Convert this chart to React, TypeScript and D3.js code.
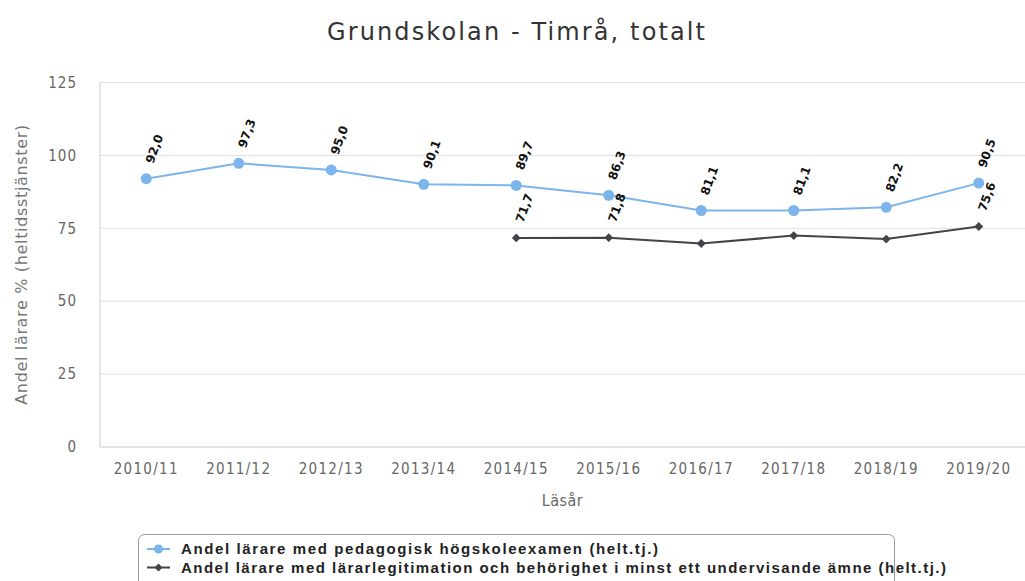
import React from "react";
import * as d3 from "d3";

const categories = ["2010/11", "2011/12", "2012/13", "2013/14", "2014/15", "2015/16", "2016/17", "2017/18", "2018/19", "2019/20"];
const pedagogiskValues: (number | null)[] = [92.0, 97.3, 95.0, 90.1, 89.7, 86.3, 81.1, 81.1, 82.2, 90.5];
const legitimationValues: (number | null)[] = [null, null, null, null, 71.7, 71.8, 69.8, 72.5, 71.3, 75.6];
const legitimationLabelShown = [false, false, false, false, true, true, false, false, false, true];
const yTicks = [0, 25, 50, 75, 100, 125];
const title = "Grundskolan - Timrå, totalt";
const yTitle = "Andel lärare % (heltidsstjänster)";
const xTitle = "Läsår";
const legendNames = [
  "Andel lärare med pedagogisk högskoleexamen (helt.tj.)",
  "Andel lärare med lärarlegitimation och behörighet i minst ett undervisande ämne (helt.tj.)",
];

const W = 1025, H = 581;
const left = 100, right = 1025, top = 82.5, bottom = 447;
const BLUE = "#7cb5ec", DARK = "#434348";

export default function App() {
  const x = d3.scaleBand<string>().domain(categories).range([left, right]);
  const y = d3.scaleLinear().domain([0, 125]).range([bottom, top]);
  const cx = (c: string) => (x(c) as number) + x.bandwidth() / 2;
  const fmt = (v: number) => v.toFixed(1).replace(".", ",");

  const line = d3.line<[string, number | null]>()
    .defined((d) => d[1] !== null)
    .x((d) => cx(d[0]))
    .y((d) => y(d[1] as number));

  const s1 = categories.map((c, i) => [c, pedagogiskValues[i]] as [string, number | null]);
  const s2 = categories.map((c, i) => [c, legitimationValues[i]] as [string, number | null]);
  const diamond = d3.symbol().type(d3.symbolDiamond2).size(50)();

  const label = (c: string, v: number, key: string) => (
    <text key={key} transform={`translate(${cx(c) + 3},${y(v) - 16}) rotate(-70)`}
      fontFamily="DejaVu Sans" fontSize={12} fontWeight="bold" fill="#111" dy="0.35em">{fmt(v)}</text>
  );

  return (
    <svg width={W} height={H} style={{ position: "absolute", left: 0, top: 0, background: "#fff" }}>
      <text x={327} y={40} textLength={378} lengthAdjust="spacing" fontFamily="DejaVu Sans" fontSize={24} fill="#333">{title}</text>
      {yTicks.map((t) => (
        <g key={t}>
          {t > 0 && <line x1={left} x2={right} y1={y(t)} y2={y(t)} stroke="#e0e0e0" strokeWidth={1} />}
          <text x={77} y={y(t)} dy="0.35em" textAnchor="end" fontFamily="DejaVu Sans Condensed" fontSize={15} letterSpacing={1} fill="#666">{t}</text>
        </g>
      ))}
      <line x1={left} x2={left} y1={top} y2={bottom} stroke="#ccc" />
      <line x1={left} x2={right} y1={bottom} y2={bottom} stroke="#ccc" />
      {categories.map((c) => (
        <text key={c} x={cx(c)} y={474} textAnchor="middle" fontFamily="DejaVu Sans Condensed" fontSize={15} letterSpacing={1.3} fill="#666">{c}</text>
      ))}
      <text x={(left + right) / 2} y={506} textAnchor="middle" fontFamily="DejaVu Sans Condensed" fontSize={16} letterSpacing={0.5} fill="#666">{xTitle}</text>
      <text x={0} y={0} transform={`translate(27,${(top + bottom) / 2 + 140}) rotate(-90)`} textLength={280} lengthAdjust="spacing" fontFamily="DejaVu Sans" fontSize={16} fill="#777">{yTitle}</text>

      <path d={line(s1) || ""} fill="none" stroke={BLUE} strokeWidth={2} />
      <path d={line(s2) || ""} fill="none" stroke={DARK} strokeWidth={2} />
      {s1.map(([c, v]) => v !== null && <circle key={"c" + c} cx={cx(c)} cy={y(v)} r={5.5} fill={BLUE} />)}
      {s2.map(([c, v]) => v !== null && <path key={"d" + c} d={diamond || ""} transform={`translate(${cx(c)},${y(v)})`} fill={DARK} />)}
      {s1.map(([c, v]) => v !== null && label(c, v, "l1" + c))}
      {s2.map(([c, v], i) => v !== null && legitimationLabelShown[i] && label(c, v, "l2" + c))}

      <rect x={138.5} y={534.5} width={756} height={70} rx={6} fill="none" stroke="#999" />
      {legendNames.map((n, i) => {
        const ly = 549 + i * 18.5;
        const col = i === 0 ? BLUE : DARK;
        return (
          <g key={n}>
            <line x1={147} x2={170} y1={ly} y2={ly} stroke={col} strokeWidth={2} />
            {i === 0 ? <circle cx={158.5} cy={ly} r={4.5} fill={col} /> : <path d={d3.symbol().type(d3.symbolDiamond2).size(40)() || ""} transform={`translate(158.5,${ly})`} fill={col} />}
            <text x={181} y={ly} dy="0.36em" textLength={i === 0 ? 477 : 765} lengthAdjust="spacing" fontFamily="Liberation Sans" fontWeight="bold" fontSize={15} fill="#222">{n}</text>
          </g>
        );
      })}
    </svg>
  );
}
